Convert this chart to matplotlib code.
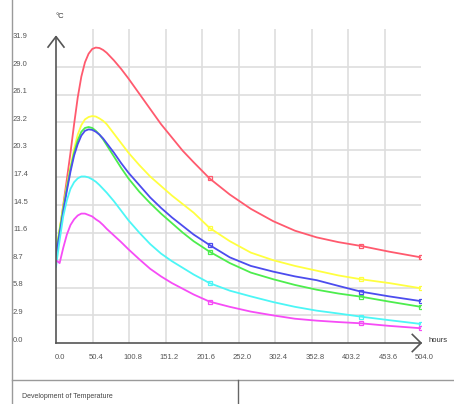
import matplotlib
matplotlib.use("Agg")
import matplotlib.pyplot as plt
from matplotlib.transforms import blended_transform_factory

plt.rcParams['font.family'] = ['Liberation Sans', 'DejaVu Sans']

hours = [0, 5, 10, 15, 20, 25, 30, 35, 40, 45, 50, 55, 60, 65, 70, 80, 90, 100,
         115, 130, 145, 160, 175, 190, 212, 240, 269, 300, 330, 360, 390, 421, 460, 504]

red     = [9.0, 11.8, 14.5, 17.2, 20.0, 23.0, 25.8, 28.0, 29.5, 30.4, 30.9, 31.05, 31.0, 30.8, 30.5, 29.7, 28.8, 27.8,
           26.2, 24.6, 23.0, 21.6, 20.2, 19.0, 17.3, 15.6, 14.1, 12.8, 11.8, 11.1, 10.6, 10.2, 9.6, 9.0]
yellow  = [9.6, 12.0, 14.3, 16.5, 18.5, 20.4, 21.9, 22.9, 23.5, 23.75, 23.85, 23.8, 23.6, 23.35, 23.0, 22.0, 21.0, 20.0,
           18.7, 17.5, 16.5, 15.5, 14.6, 13.7, 12.1, 10.7, 9.5, 8.7, 8.1, 7.6, 7.1, 6.7, 6.3, 5.75]
green   = [9.4, 11.8, 14.1, 16.3, 18.3, 20.0, 21.3, 22.2, 22.6, 22.7, 22.6, 22.3, 21.9, 21.4, 20.8, 19.6, 18.4, 17.3,
           15.9, 14.7, 13.6, 12.6, 11.6, 10.7, 9.6, 8.4, 7.4, 6.7, 6.1, 5.6, 5.2, 4.87, 4.35, 3.8]
blue    = [9.2, 11.5, 13.8, 16.0, 18.0, 19.7, 20.9, 21.8, 22.3, 22.45, 22.4, 22.2, 21.9, 21.5, 21.0, 20.0, 18.9, 17.9,
           16.6, 15.3, 14.2, 13.2, 12.3, 11.4, 10.3, 9.0, 8.1, 7.5, 7.0, 6.6, 6.0, 5.4, 4.9, 4.4]
cyan    = [8.0, 10.8, 13.3, 15.0, 16.2, 16.9, 17.3, 17.5, 17.5, 17.4, 17.2, 16.95, 16.6, 16.2, 15.8, 14.9, 13.9, 12.9,
           11.6, 10.4, 9.4, 8.6, 7.9, 7.2, 6.3, 5.5, 4.9, 4.3, 3.8, 3.4, 3.1, 2.77, 2.4, 2.0]
magenta = [8.7, 8.4, 10.0, 11.4, 12.4, 13.0, 13.4, 13.6, 13.6, 13.45, 13.3, 13.0, 12.75, 12.4, 12.0, 11.3, 10.6, 9.85,
           8.8, 7.8, 7.0, 6.3, 5.7, 5.1, 4.35, 3.8, 3.3, 2.9, 2.55, 2.35, 2.2, 2.07, 1.8, 1.55]

series = [red, yellow, green, blue, cyan, magenta]
colors = ['#ff5a6e', '#ffff40', '#4ded4d', '#4c4cee', '#4cf6f6', '#f64cf6']
marker_idx = [24, 31, 33]

x_ticks = [0.0, 50.4, 100.8, 151.2, 201.6, 252.0, 302.4, 352.8, 403.2, 453.6, 504.0]
y_ticks = [0.0, 2.9, 5.8, 8.7, 11.6, 14.5, 17.4, 20.3, 23.2, 26.1, 29.0, 31.9]

W, H = 454, 404
fig = plt.figure(figsize=(W / 100, H / 100), dpi=100)
fig.patch.set_facecolor('white')

ax = fig.add_axes([56 / W, 1 - 343 / H, (421 - 56) / W, (343 - 29) / H])
ax.set_xlim(0, 504)
ax.set_ylim(0, 33)
ax.axis('off')

# grid
for v in y_ticks[1:-1]:
    ax.plot([0, 504], [v, v], color='#dedede', lw=1.2, zorder=1)
for v in x_ticks[1:-1]:
    ax.plot([v, v], [0, 33], color='#dedede', lw=1.2, zorder=1)

# curves
for vals, c in zip(series, colors):
    ax.plot(hours, vals, color=c, lw=1.3, zorder=3,
            marker='s', markevery=marker_idx, markersize=2.5,
            markerfacecolor='none', markeredgecolor=c, markeredgewidth=0.9)

# axes with arrows
axc = '#555555'
ax.plot([0, 0], [0, 32.2], color=axc, lw=1.2, zorder=4, clip_on=False)
ax.plot([-11, 0, 11], [31.1, 32.2, 31.1], color=axc, lw=1.2, zorder=4, clip_on=False)
ax.plot([0, 504], [0, 0], color=axc, lw=1.2, zorder=4, clip_on=False)
ax.plot([492, 504, 492], [0.9, 0, -0.9], color=axc, lw=1.2, zorder=4, clip_on=False)

# tick labels
tr_y = blended_transform_factory(fig.transFigure, ax.transData)
for v in y_ticks:
    ax.text(13 / W, v + 0.3, f'{v:.1f}', transform=tr_y, ha='left', va='center',
            fontsize=5.5, color='#555555')
for v in x_ticks:
    ax.text(v + 5, -1.55, f'{v:.1f}', ha='center', va='center',
            fontsize=5.5, color='#555555', clip_on=False)

fig.text(60 / W, 1 - 17 / H, '°C', fontsize=5.5, color='#333333', ha='center', va='center')
fig.text(438 / W, 1 - 341 / H, 'hours', fontsize=5.5, color='#333333', ha='center', va='center')

# frame and caption box
fc = '#9a9a9a'
fig.add_artist(plt.Line2D([12 / W, 12 / W], [0, 1], color=fc, lw=1.0))
fig.add_artist(plt.Line2D([12 / W, 1], [1 - 380 / H, 1 - 380 / H], color=fc, lw=1.0))
fig.add_artist(plt.Line2D([238 / W, 238 / W], [0, 1 - 380 / H], color='#666666', lw=1.0))
fig.text(22 / W, 1 - 397 / H, 'Development of Temperature', fontsize=5, color='#444444',
         ha='left', va='center')

fig.savefig('out.png', dpi=100)
